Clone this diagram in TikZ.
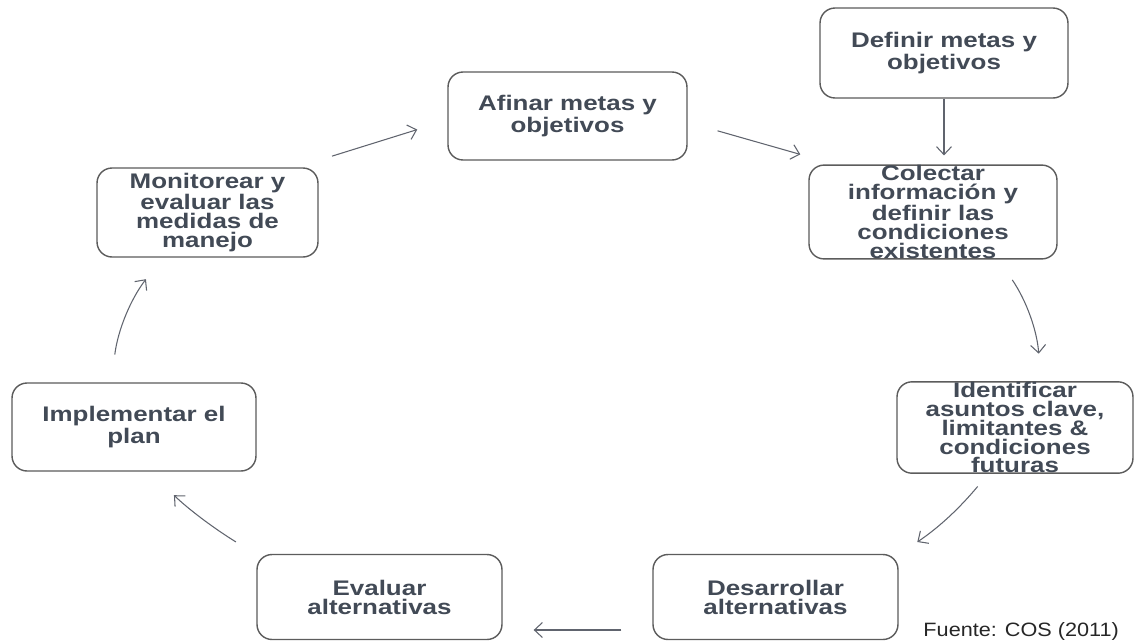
\documentclass[tikz,border=0pt]{standalone}
\usepackage{fontspec}
\setmainfont{Liberation Sans}
\newfontfamily\boxfont{Liberation Sans}[FakeStretch=1.23]
\newfontfamily\notefont{Liberation Sans}[FakeStretch=1.12]
\usetikzlibrary{arrows.meta}
\definecolor{boxtext}{RGB}{66,74,86}
\definecolor{boxline}{RGB}{92,92,92}
\definecolor{arrowline}{RGB}{96,100,110}
\begin{document}
\begin{tikzpicture}[x=0.02cm,y=-0.02cm,
	etapa/.style={draw=boxline, line width=0.8pt, rounded corners=0.3cm, inner sep=0pt, align=center, text=boxtext, font=\boxfont\bfseries\fontsize{12}{10.8}\selectfont},
	flecha/.style={draw=arrowline, line width=0.6pt, -{Straight Barb[length=1.6mm,width=3mm]}}]
	\useasboundingbox (0,0) rectangle (1134,640);
	\clip (0,0) rectangle (1134,640);
	\fill[white] (0,0) rectangle (1134,640);
	\node[etapa, minimum width=4.96cm, minimum height=1.8cm] (def) at (944,53) {Definir metas y\\objetivos};
	\node[etapa, minimum width=4.96cm, minimum height=1.8cm] (col) at (933,212) {Colectar\\información y\\definir las\\condiciones\\existentes};
	\node[etapa, minimum width=4.72cm, minimum height=1.78cm] (ide) at (1015,427.5) {Identificar\\asuntos clave,\\limitantes \&\\condiciones\\futuras};
	\node[etapa, minimum width=4.9cm, minimum height=1.7cm] (des) at (775.5,597) {Desarrollar\\alternativas};
	\node[etapa, minimum width=4.9cm, minimum height=1.7cm] (eva) at (379.5,597) {Evaluar\\alternativas};
	\node[etapa, minimum width=4.88cm, minimum height=1.76cm] (imp) at (134,427) {Implementar el\\plan};
	\node[etapa, minimum width=4.42cm, minimum height=1.78cm] (mon) at (207.5,212.5) {Monitorear y\\evaluar las\\medidas de\\manejo};
	\node[etapa, minimum width=4.78cm, minimum height=1.76cm] (afi) at (567.5,116) {Afinar metas y\\objetivos};
	\node[anchor=base east, text=black!85, font=\notefont\fontsize{11}{13}\selectfont] (fuente) at (1125,636) {Fuente: COS (2011)};
	\draw[flecha, shorten >=0.18cm] (def.south) -- (def.south |- col.north);
	\draw[flecha, shorten <=0.62cm, shorten >=0.73cm] (afi.-3.6) -- (col.154.2);
	\draw[flecha, shorten <=0.49cm, shorten >=0.55cm] (col.-36.6) to[bend left=15] (ide.61.2);
	\draw[flecha, shorten <=0.33cm, shorten >=0.45cm] (ide.240.9) to[bend left=8] (des.19.8);
	\draw[flecha, shorten <=0.62cm, shorten >=0.62cm] (des.195) -- (eva.-15);
	\draw[flecha, shorten <=0.48cm, shorten >=0.68cm] (eva.161.1) to[bend left=6] (imp.-71.8);
	\draw[flecha, shorten <=0.56cm, shorten >=0.54cm] (imp.117.3) to[bend left=15] (mon.225.2);
	\draw[flecha, shorten <=0.75cm, shorten >=0.63cm] (mon.27.2) -- (afi.182.3);
\end{tikzpicture}
\end{document}
